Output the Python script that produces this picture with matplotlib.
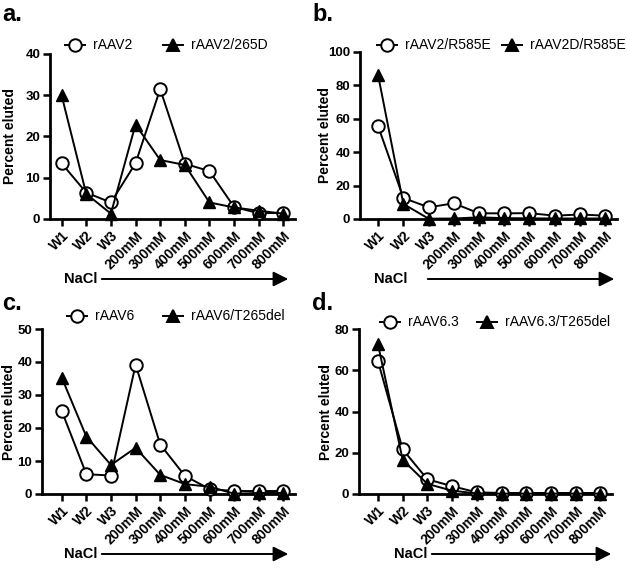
import matplotlib
matplotlib.use("Agg")
import matplotlib.pyplot as plt

plt.rcParams['font.family'] = ['Liberation Sans', 'DejaVu Sans']

categories = ["W1", "W2", "W3", "200mM", "300mM", "400mM", "500mM", "600mM", "700mM", "800mM"]

a_labels = ["rAAV2", "rAAV2/265D"]
a_circle = [13.5, 6.4, 4.0, 13.5, 31.5, 13.4, 11.6, 2.9, 1.4, 1.5]
a_triangle = [30.0, 6.1, 1.3, 22.9, 14.3, 13.1, 4.0, 2.8, 2.0, 1.3]

b_labels = ["rAAV2/R585E", "rAAV2D/R585E"]
b_circle = [55.5, 12.6, 7.0, 9.4, 3.4, 3.4, 3.5, 2.0, 2.7, 2.0]
b_triangle = [86.0, 9.0, 0.2, 0.3, 1.0, 0.5, 0.4, 0.3, 0.3, 0.3]

c_labels = ["rAAV6", "rAAV6/T265del"]
c_circle = [25.2, 6.0, 5.6, 39.2, 15.0, 5.5, 1.5, 0.9, 0.9, 0.9]
c_triangle = [35.3, 17.4, 8.8, 14.0, 5.8, 3.0, 2.2, 0.1, 0.3, 0.3]

d_labels = ["rAAV6.3", "rAAV6.3/T265del"]
d_circle = [64.3, 21.6, 7.1, 3.8, 0.8, 0.5, 0.5, 0.5, 0.5, 0.5]
d_triangle = [72.5, 16.5, 4.9, 1.6, 0.3, 0.2, 0.2, 0.2, 0.2, 0.2]

W, H = 627, 581
fig = plt.figure(figsize=(W / 100, H / 100), dpi=100)

def px_rect(l, r, t, b):
    return [l / W, 1 - b / H, (r - l) / W, (b - t) / H]

panels = [
    dict(letter="a.", lp=(2, 21), rect=(50, 295, 54, 219), xl=-0.47, ymax=40, yt=[0, 10, 20, 30, 40],
         circ=a_circle, tri=a_triangle, labels=a_labels, leg=(65, 45), leg2=163,
         nacl=(64, 279), arrow=(99, 291), ylx=10),
    dict(letter="b.", lp=(312, 21), rect=(360, 617, 52, 219), xl=-0.72, ymax=100, yt=[0, 20, 40, 60, 80, 100],
         circ=b_circle, tri=b_triangle, labels=b_labels, leg=(377, 45), leg2=502,
         nacl=(374, 279), arrow=(425, 617), ylx=325),
    dict(letter="c.", lp=(2, 310), rect=(42, 295, 329, 494), xl=-0.8, ymax=50, yt=[0, 10, 20, 30, 40, 50],
         circ=c_circle, tri=c_triangle, labels=c_labels, leg=(67, 316), leg2=163,
         nacl=(64, 554), arrow=(99, 291), ylx=9),
    dict(letter="d.", lp=(312, 310), rect=(359, 612, 329, 494), xl=-0.77, ymax=80, yt=[0, 20, 40, 60, 80],
         circ=d_circle, tri=d_triangle, labels=d_labels, leg=(380, 322), leg2=477,
         nacl=(394, 554), arrow=(429, 614), ylx=326),
]

x = list(range(len(categories)))

for p in panels:
    l, r, t, b = p["rect"]
    ax = fig.add_axes(px_rect(l, r, t, b))
    ax.plot(x, p["circ"], color="black", lw=1.4, marker="o", markersize=9,
            markerfacecolor="white", markeredgecolor="black", markeredgewidth=1.4, zorder=3)
    ax.plot(x, p["tri"], color="black", lw=1.4, marker="^", markersize=8,
            markerfacecolor="black", markeredgecolor="black", zorder=4)
    ax.set_xlim(p["xl"], 9.47)
    ax.set_ylim(0, p["ymax"])
    ax.set_yticks(p["yt"])
    ax.set_xticks(x)
    ax.set_xticklabels(categories, rotation=45, ha="right", rotation_mode="anchor",
                       fontweight="bold", fontsize=10)
    for lab in ax.get_yticklabels():
        lab.set_fontweight("bold")
        lab.set_fontsize(9.5)
    ax.spines["top"].set_visible(False)
    ax.spines["right"].set_visible(False)
    ax.spines["left"].set_linewidth(2.0)
    ax.spines["bottom"].set_linewidth(2.0)
    ax.tick_params(axis="both", width=1.8, length=5, pad=2, color="black")
    ax.patch.set_alpha(0)
    for sp in ax.spines.values():
        sp.set_clip_on(False)
    for ln in ax.lines:
        ln.set_clip_on(False)

    # y label
    fig.text(p["ylx"] / W, 1 - ((t + b) / 2) / H, "Percent eluted", rotation=90,
             fontsize=10, fontweight="bold", ha="center", va="center")

    # panel letter
    fig.text(p["lp"][0] / W, 1 - p["lp"][1] / H, p["letter"], fontsize=17, fontweight="bold",
             ha="left", va="baseline")

    # legend (manual)
    lx, ly = p["leg"]
    fy = 1 - ly / H
    hl = 20
    for (sx, mk, fc, lab) in [(lx, "o", "white", p["labels"][0]), (p["leg2"], "^", "black", p["labels"][1])]:
        fig.lines.append(plt.Line2D([sx / W, (sx + hl) / W], [fy, fy], transform=fig.transFigure,
                                    color="black", lw=1.4))
        fig.lines.append(plt.Line2D([(sx + hl / 2) / W], [fy], transform=fig.transFigure,
                                    marker=mk, markersize=9 if mk == "o" else 8,
                                    markerfacecolor=fc, markeredgecolor="black",
                                    markeredgewidth=1.4, linestyle="none"))
        fig.text((sx + hl + 8) / W, fy, lab, fontsize=10, ha="left", va="center")

    # NaCl arrow
    nx, ny = p["nacl"]
    fig.text(nx / W, 1 - ny / H, "NaCl", fontsize=10.5, fontweight="bold", ha="left", va="center")
    a0, a1 = p["arrow"]
    fig.patches.append(matplotlib.patches.FancyArrowPatch(
        (a0 / W, 1 - ny / H), (a1 / W, 1 - ny / H), transform=fig.transFigure,
        arrowstyle="-|>,head_length=6,head_width=3", mutation_scale=1.5, color="black", lw=1.4))

fig.savefig("out.png", dpi=100, facecolor="white")
